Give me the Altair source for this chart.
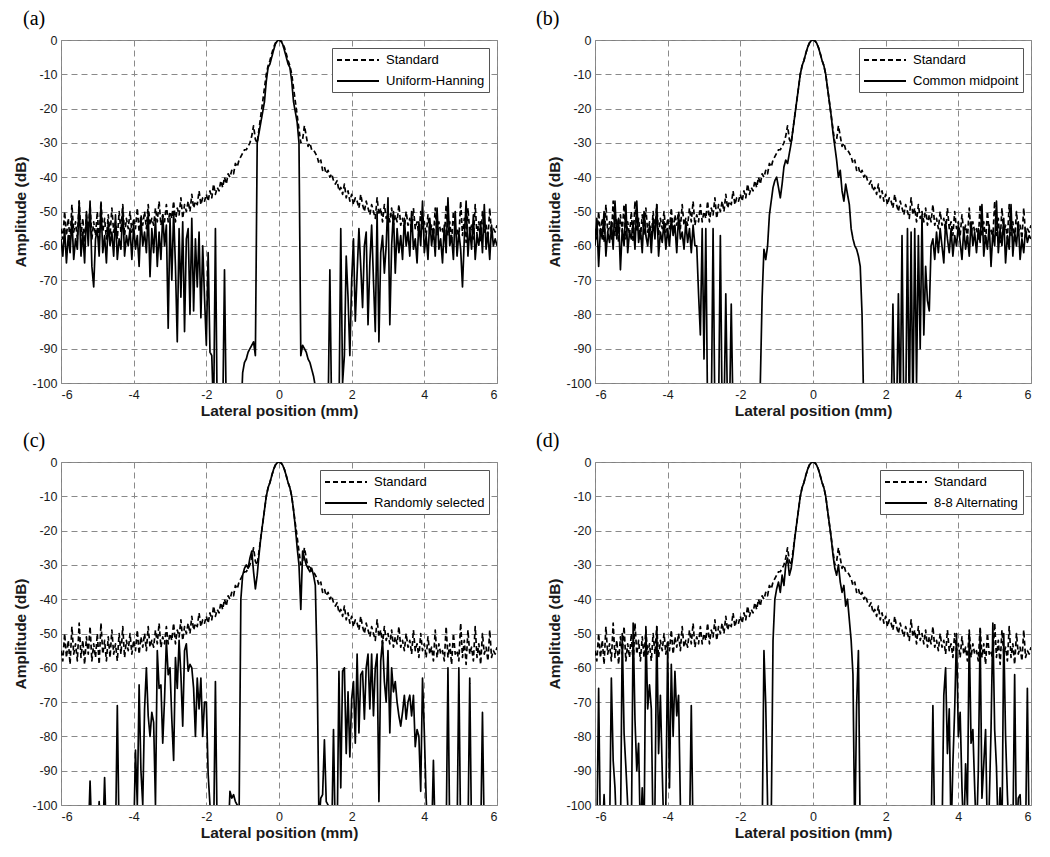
import numpy as np
import pandas as pd
import altair as alt

# Reference beam profile (dashed "Standard"), sampled every 0.05 mm from -6 to 6 mm
STANDARD = [
    -55, -58, -50, -57, -52, -59, -48, -56, -53, -58,
    -47, -57, -52, -59, -51, -56, -48, -58, -53, -57,
    -50, -59, -47, -56, -52, -58, -51, -57, -49, -56,
    -53, -58, -50, -56, -48, -57, -52, -55, -50, -56,
    -52, -55, -49, -56, -51, -54, -50, -55, -48, -54,
    -52, -54, -49, -53, -47, -54, -51, -53, -48, -53,
    -50, -52, -47, -53, -49, -51, -46, -52, -48, -50,
    -47, -50, -45, -49, -47, -48, -44, -48, -46, -47,
    -45, -47, -44, -46, -42, -45, -43, -44, -41, -43,
    -40, -42, -39, -40, -38, -39, -36, -37, -35, -34,
    -33, -32, -32, -31, -30, -28, -25, -29, -30, -26,
    -22, -18, -14, -10, -7.5, -6, -4, -2.2, -0.9, -0.2,
    0,
    -0.2, -0.9, -2.2, -4, -6, -7.5, -10, -14, -18, -22,
    -26, -30, -29, -25, -28, -31, -30, -32, -32, -33,
    -34, -36, -35, -38, -37, -39, -38, -40, -39, -41,
    -42, -41, -44, -43, -45, -42, -46, -44, -47, -45,
    -48, -46, -47, -49, -45, -48, -50, -47, -49, -51,
    -48, -50, -52, -46, -51, -49, -53, -48, -52, -50,
    -53, -49, -54, -51, -53, -48, -54, -52, -55, -50,
    -54, -52, -56, -49, -55, -53, -57, -50, -55, -53,
    -57, -51, -56, -54, -58, -49, -57, -53, -56, -55,
    -58, -48, -57, -53, -59, -50, -56, -55, -58, -47,
    -57, -52, -59, -49, -56, -54, -58, -48, -57, -53,
    -59, -50, -56, -54, -58, -49, -57, -55, -56, -54,
]

UNIFORM_HANNING = [
    -58, -63, -55, -65, -57, -62, -52, -64, -58, -61,
    -47, -63, -56, -65, -50, -60, -47, -66, -72, -58,
    -55, -63, -48, -62, -57, -65, -53, -60, -56, -63,
    -51, -64, -58, -61, -49, -63, -57, -60, -55, -64,
    -54, -61, -57, -66, -52, -60, -56, -62, -50, -69,
    -55, -62, -52, -66, -56, -64, -51, -60, -54, -84,
    -52, -70, -50, -66, -88, -55, -75, -53, -85, -58,
    -55, -80, -52, -79, -58, -72, -56, -81, -60, -75,
    -89, -62, -91, -92, -110, -55, -110, -110, -110, -110,
    -67, -110, -110, -110, -110, -110, -110, -110, -110, -110,
    -97, -94, -93, -91, -90, -89, -88, -92, -30, -27,
    -24, -21, -18, -12, -8, -7, -5, -3, -1.2, -0.3,
    0,
    -0.3, -1.2, -3, -5, -7, -8, -12, -18, -21, -24,
    -30, -92, -89, -90, -91, -93, -94, -96, -98, -101,
    -110, -110, -110, -110, -110, -110, -110, -67, -110, -110,
    -110, -110, -110, -55, -100, -92, -63, -75, -92, -70,
    -58, -82, -68, -55, -66, -78, -60, -56, -83, -65,
    -54, -70, -85, -50, -88, -62, -57, -68, -60, -46,
    -83, -60, -50, -68, -55, -62, -57, -64, -52, -60,
    -56, -63, -50, -61, -58, -65, -53, -60, -47, -62,
    -57, -64, -52, -60, -55, -63, -49, -61, -58, -65,
    -54, -62, -46, -60, -57, -64, -50, -63, -56, -61,
    -72, -58, -47, -63, -55, -61, -51, -64, -57, -60,
    -53, -62, -48, -61, -56, -64, -54, -60, -58, -60,
]

COMMON_MIDPOINT = [
    -60, -52, -66, -55, -58, -50, -63, -56, -59, -53,
    -61, -47, -58, -52, -67, -55, -60, -48, -62, -56,
    -58, -53, -61, -47, -59, -55, -62, -50, -57, -60,
    -54, -62, -52, -58, -48, -63, -56, -59, -53, -61,
    -55, -60, -52, -57, -54, -62, -51, -58, -56, -61,
    -53, -59, -55, -62, -54, -60, -60, -74, -86, -55,
    -93, -55, -110, -110, -110, -55, -110, -110, -110, -57,
    -110, -110, -74, -110, -110, -77, -110, -110, -110, -110,
    -110, -110, -110, -110, -110, -110, -110, -110, -110, -110,
    -110, -100, -75, -61, -64, -60, -51, -47, -43, -41,
    -40, -43, -46, -42, -37, -35, -36, -33, -30, -26,
    -22, -18, -14, -10, -7.5, -6, -4, -2.2, -0.9, -0.2,
    0,
    -0.2, -0.9, -2.2, -4, -6, -7.5, -10, -14, -18, -22,
    -27, -31, -35, -40, -38, -44, -47, -42, -45, -48,
    -55, -58, -60, -61, -63, -66, -80, -110, -110, -110,
    -110, -110, -110, -110, -110, -110, -110, -110, -110, -110,
    -110, -110, -110, -77, -110, -110, -74, -110, -57, -110,
    -110, -55, -110, -56, -110, -55, -100, -57, -90, -51,
    -86, -66, -76, -79, -60, -58, -64, -56, -62, -55,
    -60, -65, -53, -58, -62, -55, -63, -57, -60, -54,
    -59, -64, -55, -61, -57, -63, -53, -60, -56, -62,
    -55, -59, -48, -63, -57, -61, -54, -66, -56, -60,
    -47, -62, -55, -60, -52, -65, -57, -61, -48, -63,
    -56, -60, -53, -64, -58, -62, -55, -59, -57, -58,
]

RANDOMLY_SELECTED = [
    -110, -110, -110, -110, -110, -110, -110, -110, -110, -110,
    -110, -110, -110, -110, -110, -110, -93, -110, -110, -110,
    -110, -99, -110, -110, -92, -110, -110, -110, -110, -110,
    -110, -71, -110, -110, -110, -110, -110, -110, -110, -110,
    -110, -84, -100, -65, -90, -100, -72, -60, -74, -80,
    -73, -76, -100, -55, -66, -65, -82, -69, -52, -62,
    -60, -75, -87, -57, -66, -52, -62, -77, -55, -53,
    -61, -59, -60, -66, -80, -63, -72, -63, -80, -70,
    -70, -91, -100, -110, -110, -64, -110, -110, -110, -110,
    -110, -110, -110, -96, -98, -97, -99, -100, -105, -40,
    -33, -31, -30, -31, -28, -26, -32, -37, -33, -27,
    -22, -18, -14, -10, -7.5, -6, -4, -2.2, -0.9, -0.2,
    0,
    -0.2, -0.9, -2.2, -4, -6, -7.5, -10, -14, -19, -25,
    -30, -43, -26, -28, -30, -31, -32, -31, -33, -36,
    -60, -105, -98, -97, -81, -99, -100, -110, -110, -78,
    -110, -110, -61, -95, -61, -60, -85, -67, -86, -69,
    -64, -82, -56, -79, -62, -61, -75, -60, -56, -72,
    -56, -74, -60, -56, -99, -58, -52, -64, -70, -55,
    -79, -60, -67, -64, -70, -74, -77, -73, -68, -75,
    -70, -68, -74, -68, -83, -78, -80, -96, -63, -79,
    -98, -110, -110, -110, -87, -110, -110, -110, -110, -110,
    -110, -110, -60, -110, -110, -110, -110, -110, -60, -110,
    -110, -110, -110, -110, -63, -110, -110, -110, -110, -110,
    -110, -73, -110, -110, -110, -110, -110, -110, -110, -110,
]

ALTERNATING_8_8 = [
    -110, -110, -66, -110, -110, -97, -110, -110, -110, -63,
    -87, -95, -110, -110, -110, -50, -79, -89, -100, -110,
    -110, -47, -75, -90, -82, -110, -95, -110, -48, -72,
    -65, -72, -110, -100, -48, -85, -68, -90, -110, -100,
    -54, -95, -59, -80, -61, -74, -68, -100, -110, -110,
    -110, -110, -110, -71, -110, -110, -110, -110, -110, -110,
    -110, -110, -110, -110, -110, -110, -110, -110, -110, -110,
    -110, -110, -110, -110, -110, -110, -110, -110, -110, -110,
    -110, -110, -110, -110, -110, -110, -110, -110, -110, -110,
    -110, -110, -110, -55, -71, -100, -110, -105, -52, -40,
    -37, -35, -38, -33, -36, -30, -28, -33, -31, -27,
    -22, -18, -14, -10, -7.5, -6, -4, -2.2, -0.9, -0.2,
    0,
    -0.2, -0.9, -2.2, -4, -6, -7.5, -10, -14, -18, -22,
    -27, -31, -33, -30, -35, -38, -36, -42, -40, -46,
    -52, -62, -110, -71, -55, -110, -110, -110, -110, -110,
    -110, -110, -110, -110, -110, -110, -110, -110, -110, -110,
    -110, -110, -110, -110, -110, -110, -110, -110, -110, -110,
    -110, -110, -110, -110, -110, -110, -110, -110, -110, -110,
    -110, -110, -110, -110, -110, -71, -110, -110, -110, -110,
    -110, -68, -60, -85, -72, -110, -88, -72, -50, -80,
    -73, -95, -110, -88, -100, -50, -82, -78, -95, -110,
    -90, -50, -98, -88, -78, -110, -100, -78, -47, -78,
    -89, -110, -95, -110, -50, -80, -97, -110, -100, -110,
    -62, -110, -98, -97, -110, -110, -110, -66, -110, -110,
]

X_TICKS = [-6, -4, -2, 0, 2, 4, 6]
Y_TICKS = list(range(-100, 1, 10))

PANELS = [
    ("(a)", "Uniform-Hanning", UNIFORM_HANNING),
    ("(b)", "Common midpoint", COMMON_MIDPOINT),
    ("(c)", "Randomly selected", RANDOMLY_SELECTED),
    ("(d)", "8-8 Alternating", ALTERNATING_8_8),
]

HYPHEN_LABEL = "datum.value < 0 ? '-' + abs(datum.value) : '' + datum.value"


def positions(values):
    return np.linspace(-6, 6, len(values))


def panel(label, method, values, dx):
    df = pd.concat([
        pd.DataFrame({"x": positions(STANDARD), "y": STANDARD, "series": "Standard"}),
        pd.DataFrame({"x": positions(values), "y": values, "series": method}),
    ], ignore_index=True)
    lines = alt.Chart(df).mark_line(
        clip=True, color="black", strokeWidth=1.7, strokeJoin="round"
    ).encode(
        x=alt.X("x:Q", scale=alt.Scale(domain=[-6, 6], nice=False, zero=False),
                axis=alt.Axis(values=X_TICKS, title="Lateral position (mm)",
                              labelExpr=HYPHEN_LABEL)),
        y=alt.Y("y:Q", scale=alt.Scale(domain=[-100, 0], nice=False, zero=False),
                axis=alt.Axis(values=Y_TICKS, title="Amplitude (dB)",
                              labelExpr=HYPHEN_LABEL)),
        strokeDash=alt.StrokeDash(
            "series:N",
            scale=alt.Scale(domain=["Standard", method], range=[[5, 3], [1, 0]]),
            legend=alt.Legend(title=None, orient="top-right"),
        ),
        order=alt.Order("x:Q"),
    )
    tag = alt.Chart(pd.DataFrame({"t": [label]})).mark_text(
        align="left", baseline="alphabetic", font="Liberation Serif",
        fontSize=20, color="black",
    ).encode(x=alt.value(dx), y=alt.value(-15), text="t:N")
    return alt.layer(lines, tag).properties(width=436, height=343)


charts = [panel(lab, m, v, -38 if i % 2 == 0 else -59) for i, (lab, m, v) in enumerate(PANELS)]


def row(left, right):
    return alt.hconcat(left, right, spacing=37).resolve_scale(
        strokeDash="independent", x="independent", y="independent"
    ).resolve_legend(strokeDash="independent")


chart = alt.vconcat(row(charts[0], charts[1]), row(charts[2], charts[3]), spacing=10).resolve_scale(
    strokeDash="independent", x="independent", y="independent"
).resolve_legend(strokeDash="independent").properties(
    padding={"left": 5, "top": 0, "right": 2, "bottom": 2},
    background="white",
).configure_view(
    stroke="#808080", strokeWidth=1
).configure_axis(
    grid=True, gridColor="#8a8a8a", gridDash=[6, 4], gridWidth=1, gridOpacity=1,
    domain=False, ticks=False,
    labelFont="Liberation Sans", labelFontSize=12.5, labelColor="#1a1a1a",
    titleFont="Liberation Sans", titleFontSize=15.5, titleFontWeight="bold",
    titleColor="#1a1a1a",
).configure_axisX(
    labelPadding=5, titlePadding=3
).configure_axisY(
    labelPadding=4, titlePadding=3
).configure_legend(
    orient="top-right", offset=8, strokeColor="#555555", fillColor="white",
    padding=4, labelFont="Liberation Sans", labelFontSize=13, labelColor="black",
    symbolType="M-1,0L5,0", symbolSize=196, symbolStrokeWidth=2,
    symbolStrokeColor="black", rowPadding=6, labelOffset=34, cornerRadius=0,
)

chart.save("out.html", embed_options={"renderer": "svg", "actions": False})
